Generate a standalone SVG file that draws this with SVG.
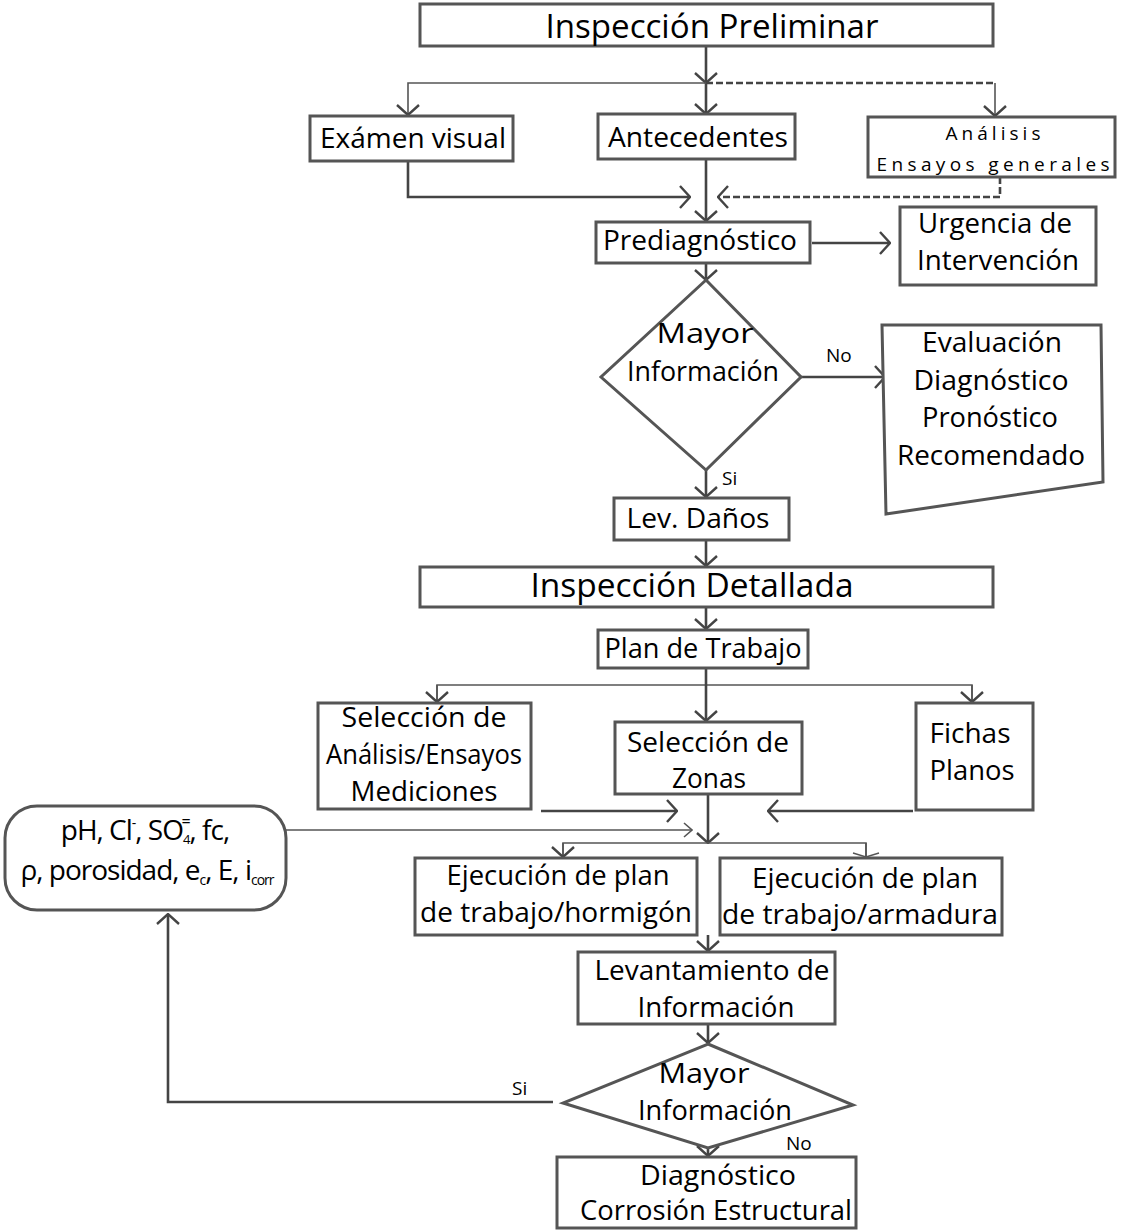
<svg xmlns="http://www.w3.org/2000/svg" width="1125" height="1232" viewBox="0 0 1125 1232">
  <style>
    .box { fill: #ffffff; stroke: #555555; stroke-width: 3; }
    .t { font-family: "Open Sans", "Noto Sans", "Liberation Sans", sans-serif; fill: #000000; text-anchor: middle; }
    .big { font-size: 33px; }
    .mid { font-size: 27px; }
    .sm { font-size: 19px; }
    .lbl { font-family: "Open Sans", "Noto Sans", sans-serif; font-size: 19px; fill: #000000; }
    .c { fill: none; stroke: #444444; stroke-width: 2.6; }
    .thin { fill: none; stroke: #555555; stroke-width: 1.6; }
    .dash { fill: none; stroke: #444444; stroke-width: 2.6; stroke-dasharray: 7 3; }
  </style>
  <defs>
    <marker id="arr" viewBox="0 0 12 24" refX="11" refY="12" markerWidth="12" markerHeight="24" markerUnits="userSpaceOnUse" orient="auto">
      <path d="M1,1 L11,12 L1,23" fill="none" stroke="#444444" stroke-width="2.4"/>
    </marker>
    <marker id="arrS" viewBox="0 0 10 16" refX="9" refY="8" markerWidth="10" markerHeight="16" markerUnits="userSpaceOnUse" orient="auto">
      <path d="M1,1 L9,8 L1,15" fill="none" stroke="#555555" stroke-width="1.6"/>
    </marker>
    <marker id="arrF" viewBox="0 0 6 28" refX="5" refY="14" markerWidth="6" markerHeight="28" markerUnits="userSpaceOnUse" orient="auto">
      <path d="M1,1 L5,14 L1,27" fill="none" stroke="#555555" stroke-width="1.4"/>
    </marker>
  </defs>

  <!-- connectors -->
  <g id="connectors">
    <line class="c" x1="706" y1="46" x2="706" y2="83" marker-end="url(#arr)"/>
    <line class="c" x1="706" y1="83" x2="706" y2="114" marker-end="url(#arr)"/>
    <polyline class="thin" points="706,83 408,83 408,115" marker-end="url(#arr)"/>
    <line class="dash" x1="706" y1="83" x2="995" y2="83"/>
    <line class="thin" x1="995" y1="83" x2="995" y2="116" marker-end="url(#arr)"/>
    <polyline class="c" points="408,161 408,197 690,197" marker-end="url(#arr)"/>
    <line class="c" x1="706" y1="159" x2="706" y2="221" marker-end="url(#arr)"/>
    <polyline class="dash" points="1000,177 1000,197 718,197" marker-end="url(#arr)"/>
    <line class="c" x1="812" y1="243" x2="890" y2="243" marker-end="url(#arr)"/>
    <line class="c" x1="706" y1="263" x2="706" y2="280" marker-end="url(#arr)"/>
    <line class="c" x1="801" y1="377" x2="885" y2="377" marker-end="url(#arr)"/>
    <line class="c" x1="706" y1="470" x2="706" y2="497" marker-end="url(#arr)"/>
    <line class="c" x1="706" y1="540" x2="706" y2="566" marker-end="url(#arr)"/>
    <line class="c" x1="706" y1="607" x2="706" y2="629" marker-end="url(#arr)"/>
    <polyline class="thin" points="437,702 437,685 972,685 972,702"/>
    <line class="thin" x1="437" y1="685" x2="437" y2="702" marker-end="url(#arr)"/>
    <line class="thin" x1="972" y1="685" x2="972" y2="702" marker-end="url(#arr)"/>
    <line class="c" x1="706" y1="668" x2="706" y2="721" marker-end="url(#arr)"/>
    <line class="c" x1="541" y1="811" x2="677" y2="811" stroke-width="3" marker-end="url(#arr)"/>
    <line class="c" x1="913" y1="811" x2="768" y2="811" stroke-width="3" marker-end="url(#arr)"/>
    <line class="c" x1="708" y1="794" x2="708" y2="843" marker-end="url(#arr)"/>
    <line class="thin" x1="286" y1="830" x2="692" y2="830" marker-end="url(#arrS)"/>
    <polyline class="thin" points="563,857 563,843 866,843 866,857"/>
    <line class="thin" x1="563" y1="843" x2="563" y2="857" marker-end="url(#arr)"/>
    <line class="thin" x1="866" y1="843" x2="866" y2="857" marker-end="url(#arrF)"/>
    <line class="c" x1="708" y1="935" x2="708" y2="951" marker-end="url(#arr)"/>
    <line class="c" x1="708" y1="1024" x2="708" y2="1043" marker-end="url(#arr)"/>
    <line class="c" x1="708" y1="1148" x2="708" y2="1156" marker-end="url(#arr)"/>
    <polyline class="c" points="553,1102 168,1102 168,914" stroke-width="2.2" marker-end="url(#arr)"/>
    <text class="lbl" x="826" y="362">No</text>
    <text class="lbl" x="722" y="485">Si</text>
    <text class="lbl" x="512" y="1095">Si</text>
    <text class="lbl" x="786" y="1150">No</text>
  </g>

  <!-- nodes -->
  <g id="inspeccion-preliminar">
    <rect class="box" x="420" y="4" width="573" height="42"/>
    <text class="t big" x="712" y="38" textLength="333" lengthAdjust="spacingAndGlyphs">Inspección Preliminar</text>
  </g>
  <g id="examen-visual">
    <rect class="box" x="310" y="116" width="203" height="45"/>
    <text class="t mid" x="413" y="148" textLength="186" lengthAdjust="spacingAndGlyphs">Exámen visual</text>
  </g>
  <g id="antecedentes">
    <rect class="box" x="598" y="114" width="197" height="45"/>
    <text class="t mid" x="698" y="147" textLength="180" lengthAdjust="spacingAndGlyphs">Antecedentes</text>
  </g>
  <g id="analisis-generales">
    <rect class="box" x="868" y="117" width="247" height="60"/>
    <text class="t sm" x="993" y="140" textLength="95" lengthAdjust="spacing">Análisis</text>
    <text class="t sm" x="993" y="171" textLength="233" lengthAdjust="spacing">Ensayos generales</text>
  </g>
  <g id="prediagnostico">
    <rect class="box" x="596" y="222" width="214" height="41"/>
    <text class="t mid" x="700" y="250" textLength="194" lengthAdjust="spacingAndGlyphs">Prediagnóstico</text>
  </g>
  <g id="urgencia">
    <rect class="box" x="900" y="207" width="196" height="78"/>
    <text class="t mid" x="995" y="233" textLength="154" lengthAdjust="spacingAndGlyphs">Urgencia de</text>
    <text class="t mid" x="998" y="270" textLength="162" lengthAdjust="spacingAndGlyphs">Intervención</text>
  </g>
  <g id="decision-1">
    <polygon class="box" points="706,280 801,377 706,470 601,377"/>
    <text class="t mid" x="705" y="343" textLength="97" lengthAdjust="spacingAndGlyphs">Mayor</text>
    <text class="t mid" x="703" y="381" textLength="152" lengthAdjust="spacingAndGlyphs">Información</text>
  </g>
  <g id="evaluacion">
    <polygon class="box" points="882,325 1101,325 1103,482 886,514"/>
    <text class="t mid" x="992" y="352" textLength="140" lengthAdjust="spacingAndGlyphs">Evaluación</text>
    <text class="t mid" x="991" y="390" textLength="155" lengthAdjust="spacingAndGlyphs">Diagnóstico</text>
    <text class="t mid" x="990" y="427" textLength="136" lengthAdjust="spacingAndGlyphs">Pronóstico</text>
    <text class="t mid" x="991" y="465" textLength="188" lengthAdjust="spacingAndGlyphs">Recomendado</text>
  </g>
  <g id="lev-danos">
    <rect class="box" x="614" y="498" width="175" height="42"/>
    <text class="t mid" x="698" y="528" textLength="143" lengthAdjust="spacingAndGlyphs">Lev. Daños</text>
  </g>
  <g id="inspeccion-detallada">
    <rect class="box" x="420" y="567" width="573" height="40"/>
    <text class="t big" x="692" y="597" textLength="323" lengthAdjust="spacingAndGlyphs">Inspección Detallada</text>
  </g>
  <g id="plan-trabajo">
    <rect class="box" x="598" y="630" width="210" height="38"/>
    <text class="t mid" x="703" y="658" textLength="197" lengthAdjust="spacingAndGlyphs">Plan de Trabajo</text>
  </g>
  <g id="seleccion-analisis">
    <rect class="box" x="318" y="703" width="213" height="106"/>
    <text class="t mid" x="424" y="727" textLength="165" lengthAdjust="spacingAndGlyphs">Selección de</text>
    <text class="t mid" x="424" y="764" textLength="196" lengthAdjust="spacingAndGlyphs">Análisis/Ensayos</text>
    <text class="t mid" x="424" y="801" textLength="147" lengthAdjust="spacingAndGlyphs">Mediciones</text>
  </g>
  <g id="seleccion-zonas">
    <rect class="box" x="615" y="722" width="187" height="72"/>
    <text class="t mid" x="708" y="752" textLength="162" lengthAdjust="spacingAndGlyphs">Selección de</text>
    <text class="t mid" x="709" y="788" textLength="74" lengthAdjust="spacingAndGlyphs">Zonas</text>
  </g>
  <g id="fichas-planos">
    <rect class="box" x="916" y="703" width="117" height="107"/>
    <text class="t mid" x="970" y="743" textLength="81" lengthAdjust="spacingAndGlyphs">Fichas</text>
    <text class="t mid" x="972" y="780" textLength="85" lengthAdjust="spacingAndGlyphs">Planos</text>
  </g>
  <g id="parametros">
    <rect class="box" x="5" y="806" width="281" height="104" rx="32" ry="32"/>
    <text class="t" x="145" y="840" font-size="28" letter-spacing="-1">pH, Cl<tspan font-size="14" dy="-12">-</tspan><tspan dy="12">, SO</tspan><tspan font-size="13" dy="4">4</tspan><tspan font-size="16" dx="-8" dy="-17">=</tspan><tspan dy="13">, fc,</tspan></text>
    <text class="t" x="147" y="880" font-size="28" letter-spacing="-1">ρ, porosidad, e<tspan font-size="14" dy="5">c</tspan><tspan dy="-5">, E, i</tspan><tspan font-size="14" dy="5">corr</tspan></text>
  </g>
  <g id="ejecucion-hormigon">
    <rect class="box" x="415" y="858" width="282" height="77"/>
    <text class="t mid" x="558" y="885" textLength="223" lengthAdjust="spacingAndGlyphs">Ejecución de plan</text>
    <text class="t mid" x="556" y="922" textLength="272" lengthAdjust="spacingAndGlyphs">de trabajo/hormigón</text>
  </g>
  <g id="ejecucion-armadura">
    <rect class="box" x="720" y="858" width="282" height="77"/>
    <text class="t mid" x="865" y="888" textLength="226" lengthAdjust="spacingAndGlyphs">Ejecución de plan</text>
    <text class="t mid" x="860" y="924" textLength="276" lengthAdjust="spacingAndGlyphs">de trabajo/armadura</text>
  </g>
  <g id="levantamiento">
    <rect class="box" x="578" y="952" width="257" height="72"/>
    <text class="t mid" x="712" y="980" textLength="235" lengthAdjust="spacingAndGlyphs">Levantamiento de</text>
    <text class="t mid" x="716" y="1017" textLength="157" lengthAdjust="spacingAndGlyphs">Información</text>
  </g>
  <g id="decision-2">
    <polygon class="box" points="708,1044 853,1105 708,1148 563,1103"/>
    <text class="t mid" x="704" y="1083" textLength="91" lengthAdjust="spacingAndGlyphs">Mayor</text>
    <text class="t mid" x="715" y="1120" textLength="154" lengthAdjust="spacingAndGlyphs">Información</text>
  </g>
  <g id="diagnostico-corrosion">
    <rect class="box" x="557" y="1157" width="299" height="71"/>
    <text class="t mid" x="718" y="1185" textLength="156" lengthAdjust="spacingAndGlyphs">Diagnóstico</text>
    <text class="t mid" x="716" y="1220" textLength="272" lengthAdjust="spacingAndGlyphs">Corrosión Estructural</text>
  </g>
</svg>
